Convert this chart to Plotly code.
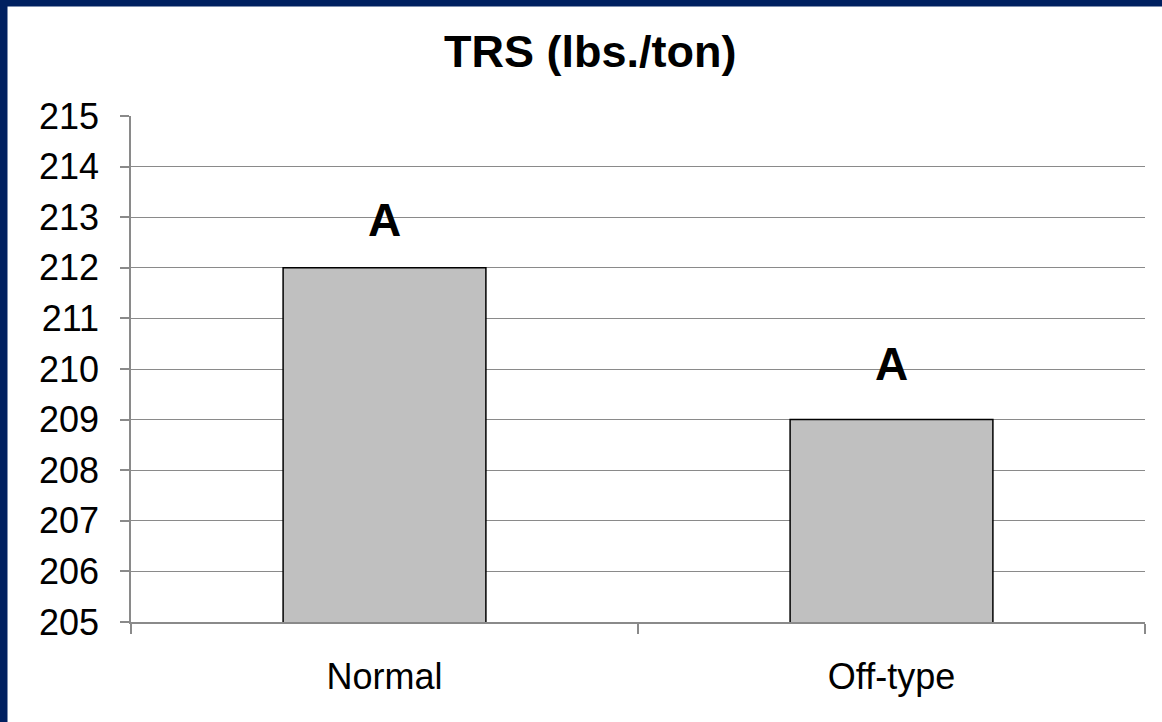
import plotly.graph_objects as go

# ---- data ----
categories = ["Normal", "Off-type"]
trs_values = [212, 209]
letters = ["A", "A"]
y_ticks = [205, 206, 207, 208, 209, 210, 211, 212, 213, 214, 215]
title_text = "TRS (lbs./ton)"

# ---- styling / layout ----
W, H = 1162, 722
L, R, T, B = 131, 17, 116, 100
PW, PH = W - L - R, H - T - B
NAVY = "#002060"
GRID = "#8a8a8a"
FONT = "Liberation Sans, Arial, sans-serif"
letter_offsets = [0.95, 1.1]


def px_x(px):
    return (px - L) / PW


def px_y(py):
    return 1 - (py - T) / PH


fig = go.Figure()
fig.add_trace(go.Bar(
    x=categories,
    y=trs_values,
    marker=dict(color="#c0c0c0", line=dict(color="black", width=1.5)),
    width=0.4,
    hoverinfo="x+y",
))

for cat, val, lab, off in zip(categories, trs_values, letters, letter_offsets):
    fig.add_annotation(
        x=cat, y=val + off, text=lab, showarrow=False,
        xref="x", yref="y", yanchor="middle",
        font=dict(family=FONT, size=46, color="black", weight="bold"),
    )

fig.add_annotation(
    x=px_x(590), y=px_y(51), xref="paper", yref="paper",
    text="<b>" + title_text + "</b>", showarrow=False,
    xanchor="center", yanchor="middle",
    font=dict(family=FONT, size=45, color="black"),
)

# navy frame strips (left and top)
fig.add_shape(type="rect", xref="paper", yref="paper", layer="above",
              x0=px_x(0), x1=px_x(7.5), y0=px_y(H), y1=px_y(0),
              fillcolor=NAVY, line=dict(width=0))
fig.add_shape(type="rect", xref="paper", yref="paper", layer="above",
              x0=px_x(0), x1=px_x(W), y0=px_y(6.5), y1=px_y(0),
              fillcolor=NAVY, line=dict(width=0))

fig.update_layout(
    width=W, height=H,
    margin=dict(l=L, r=R, t=T, b=B, pad=0),
    paper_bgcolor="white", plot_bgcolor="white",
    showlegend=False,
    bargap=0.6,
    font=dict(family=FONT, size=36, color="black"),
)

fig.update_xaxes(
    type="category", range=[-0.5, 1.5],
    showgrid=False, showline=True, linecolor=GRID, linewidth=2,
    ticks="outside", tickson="boundaries", ticklen=10, tickcolor=GRID, tickwidth=1.5,
    tickfont=dict(family=FONT, size=36, color="black"),
    ticklabelstandoff=22,
)
fig.update_yaxes(
    range=[205, 215], tickvals=y_ticks,
    showgrid=True, gridcolor=GRID, gridwidth=1.3,
    showline=True, linecolor=GRID, linewidth=1.5,
    ticks="outside", ticklen=9, tickcolor=GRID, tickwidth=1.5,
    tickfont=dict(family=FONT, size=36, color="black"),
    ticklabelstandoff=14,
    zeroline=False,
)

fig.write_html(
    "out.html",
    config={"displayModeBar": False},
    post_script="document.body.style.margin='0';document.body.style.overflow='hidden';",
)
